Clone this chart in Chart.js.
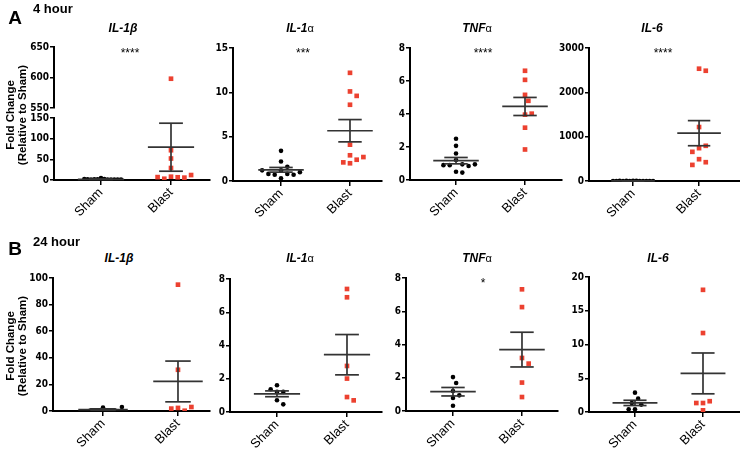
<!DOCTYPE html>
<html><head><meta charset="utf-8">
<script src="https://cdn.jsdelivr.net/npm/chart.js@4.4.0/dist/chart.umd.min.js"></script>
<style>
html,body{margin:0;padding:0}
body{width:740px;height:450px;position:relative;background:#fff;overflow:hidden;font-family:'Liberation Sans',Arial,Helvetica,sans-serif;color:#000}
canvas{position:absolute}
.t{position:absolute;white-space:nowrap;line-height:1}
</style></head><body>
<script>
// ---------- data ----------
const GROUPS = ['Sham', 'Blast'];
const TITLE_MAIN = ['IL-1β', 'IL-1', 'TNF', 'IL-6'];
const TITLE_SUFFIX = ['', 'α', 'α', ''];
const ROW_LABELS = ['A', 'B'];
const ROW_TIMES = ['4 hour', '24 hour'];
const Y_TITLE = ['Fold Change', '(Relative to Sham)'];

// 4 hour
const sham4h_IL1b  = [5, 2.2, 1.4, 1.0, 1.6, 0.8, 1.2, 0.9, 1.5, 1.1, 2.0, 1.3];
const blast4h_IL1b = [598, 72, 52, 29, 8, 6.6, 3, 5.7, 7, 12];
const sham4h_IL1a  = [3.4, 2.2, 1.6, 1.2, 0.8, 0.7, 0.7, 0.8, 1.0, 1.2, 0.3];
const blast4h_IL1a = [12.2, 10.1, 9.6, 8.6, 4.1, 2.9, 2.4, 2.0, 2.1, 2.7];
const sham4h_TNFa  = [2.5, 2.07, 1.61, 1.21, 0.95, 0.9, 0.85, 0.9, 0.95, 0.5, 0.45];
const blast4h_TNFa = [6.62, 6.07, 5.16, 4.8, 3.96, 4.02, 3.17, 1.85];
const sham4h_IL6   = [3, 2, 1, 1, 2, 1, 0.5, 1, 2, 1, 1, 0.5, 1];
const blast4h_IL6  = [2533, 2487, 1217, 741, 794, 658, 492, 424, 363];

// 24 hour
const sham24h_IL1b  = [2.6, 0.3, 0.1, 0.2, 0.3, 3.0];
const blast24h_IL1b = [95, 31, 2.3, 0.2, 1.8, 3.0];
const sham24h_IL1a  = [1.61, 1.21, 1.21, 1.37, 0.71, 0.46];
const blast24h_IL1a = [7.4, 6.9, 2.77, 2.01, 0.9, 0.7];
const sham24h_TNFa  = [2.04, 1.68, 1.2, 0.94, 0.78, 0.32];
const blast24h_TNFa = [7.32, 6.25, 3.19, 2.85, 1.71, 0.84];
const sham24h_IL6   = [2.87, 1.98, 1.33, 1.1, 0.4, 0.4];
const blast24h_IL6  = [18.1, 11.7, 1.33, 1.6, 1.33, 0.25];

// significance marks
const sig4h  = ['****', '***', '****', '****'];
const sig24h = ['', '', '*', ''];

// tick labels
const ticks4h_IL1b_upper = [550, 600, 650];
const ticks4h_IL1b_lower = [0, 50, 100, 150];
const ticks4h_IL1a = [0, 5, 10, 15];
const ticks4h_TNFa = [0, 2, 4, 6, 8];
const ticks4h_IL6  = [0, 1000, 2000, 3000];
const ticks24h_IL1b = [0, 20, 40, 60, 80, 100];
const ticks24h_IL1a = [0, 2, 4, 6, 8];
const ticks24h_TNFa = [0, 2, 4, 6, 8];
const ticks24h_IL6  = [0, 5, 10, 15, 20];

// ---------- layout (pixels) ----------
const TICKFONT = "'Liberation Sans Narrow','Arial Narrow','DejaVu Sans Condensed','Liberation Sans',sans-serif";
const RED = '#ec4130';
const STAT = '#333';

function stats(a){
  const n=a.length, m=a.reduce((s,v)=>s+v,0)/n;
  const sd=Math.sqrt(a.reduce((s,v)=>s+(v-m)*(v-m),0)/(n-1));
  return {m, sem: sd/Math.sqrt(n)};
}
function swarm(vals, pxY, pxX, d, maxHalf){
  const placed=[], offs=[], step=d/2;
  vals.forEach(v=>{
    const y=v*pxY; let off=0;
    for(let i=0;i<400;i++){
      const k=Math.ceil(i/2), cand = i===0?0:(i%2===1?k*step:-k*step);
      if(placed.every(p=>(p.x-cand)*(p.x-cand)+(p.y-y)*(p.y-y) >= d*d*0.98)){off=cand;break;}
    }
    placed.push({x:off,y}); offs.push(off);
  });
  const mx=Math.max(...offs.map(Math.abs));
  const s = mx>maxHalf ? maxHalf/mx : 1;
  return offs.map(o=>o*s/pxX);
}
function addText(html, x, y, css, anchor){
  const d=document.createElement('div'); d.className='t'; d.innerHTML=html;
  d.style.cssText += css; d.style.left=x+'px'; d.style.top=y+'px';
  d.style.transform = anchor || 'translate(-50%,-50%)';
  document.body.appendChild(d); return d;
}

function makeChart(L, yMin, yMax, yTicks, sham, blast, offS, offB, showStats){
  const YW=32, PT=8, PR=6, XH=L.showX?46:0, PB=L.showX?0:8;
  const w=(L.right-L.left)+YW+PR, h=(L.bottom-L.top)+PT+XH+PB;
  const cv=document.createElement('canvas');
  cv.width=w; cv.height=h;
  cv.style.left=(L.left-YW)+'px'; cv.style.top=(L.top-PT)+'px';
  cv.style.width=w+'px'; cv.style.height=h+'px';
  document.body.appendChild(cv);
  const inR = p => p.y>=yMin-1e-9 && p.y<=yMax;
  const shamPts = sham.map((v,i)=>({x:1+offS[i], y:v})).filter(inR);
  const blastPts = blast.map((v,i)=>({x:2+offB[i], y:v})).filter(inR);
  const ds=[];
  const line = pts => ({data:pts, showLine:true, borderColor:STAT, borderWidth:1.7, pointRadius:0, order:0, clip:2});
  if(showStats){
    [[1,stats(sham)],[2,stats(blast)]].forEach(([c,st])=>{
      ds.push(line([{x:c-0.33,y:st.m},{x:c+0.33,y:st.m}]));
      ds.push(line([{x:c,y:st.m-st.sem},{x:c,y:st.m+st.sem}]));
      ds.push(line([{x:c-0.17,y:st.m+st.sem},{x:c+0.17,y:st.m+st.sem}]));
      ds.push(line([{x:c-0.17,y:st.m-st.sem},{x:c+0.17,y:st.m-st.sem}]));
    });
  }
  ds.push({data:shamPts, showLine:false, pointStyle:'circle', pointRadius:2.3, pointBackgroundColor:'#000', pointBorderWidth:0, order:1});
  ds.push({data:blastPts, showLine:false, pointStyle:'rect', pointRadius:3.3, pointBackgroundColor:RED, pointBorderWidth:0, order:1});
  new Chart(cv, {
    type:'scatter',
    data:{datasets:ds},
    options:{
      responsive:false, animation:false, devicePixelRatio:1,
      layout:{padding:{top:PT,right:PR,bottom:PB,left:0}},
      plugins:{legend:{display:false}, tooltip:{enabled:false}},
      scales:{
        x:{type:'linear', min:L.xmin, max:L.xmax, display:L.showX,
          afterBuildTicks:s=>{s.ticks=[{value:1},{value:2}];},
          afterFit:s=>{s.height=XH;},
          ticks:{callback:v=>GROUPS[Math.round(v)-1], minRotation:45, maxRotation:45, autoSkip:false,
                 color:'#000', font:{family:"'Liberation Sans',Arial,sans-serif", size:13}, padding:0},
          grid:{drawOnChartArea:false, drawTicks:true, tickLength:5, color:'#000', lineWidth:1.5},
          border:{display:true, color:'#000', width:2}},
        y:{type:'linear', min:yMin, max:yMax,
          afterBuildTicks:s=>{s.ticks=yTicks.map(v=>({value:v}));},
          afterFit:s=>{s.width=YW;},
          ticks:{callback:v=>String(v), autoSkip:false, color:'#000',
                 font:{family:TICKFONT, size:10, weight:'bold'}, padding:1},
          grid:{drawOnChartArea:false, drawTicks:true, tickLength:4, color:'#000', lineWidth:1.5},
          border:{display:true, color:'#000', width:2}}
      }
    }
  });
}

// panel definitions
const rowA = [
  {L:{left:54,right:210,top:118,bottom:180,xmin:0.329,xmax:2.557,showX:true}, y:[0,150], t:ticks4h_IL1b_lower, s:sham4h_IL1b, b:blast4h_IL1b,
   upper:{L:{left:54,right:210,top:47,bottom:108,xmin:0.329,xmax:2.557,showX:false}, y:[550,650], t:ticks4h_IL1b_upper}},
  {L:{left:233,right:382,top:48,bottom:181,xmin:0.304,xmax:2.464,showX:true}, y:[0,15], t:ticks4h_IL1a, s:sham4h_IL1a, b:blast4h_IL1a},
  {L:{left:410,right:562,top:48,bottom:180,xmin:0.333,xmax:2.536,showX:true}, y:[0,8], t:ticks4h_TNFa, s:sham4h_TNFa, b:blast4h_TNFa},
  {L:{left:589,right:740,top:48,bottom:181,xmin:0.333,xmax:2.62,showX:true}, y:[0,3000], t:ticks4h_IL6, s:sham4h_IL6, b:blast4h_IL6}
];
const rowB = [
  {L:{left:53,right:210,top:278,bottom:411,xmin:0.333,xmax:2.427,showX:true}, y:[0,100], t:ticks24h_IL1b, s:sham24h_IL1b, b:blast24h_IL1b},
  {L:{left:230,right:382,top:279,bottom:412,xmin:0.329,xmax:2.5,showX:true}, y:[0,8], t:ticks24h_IL1a, s:sham24h_IL1a, b:blast24h_IL1a},
  {L:{left:406,right:558,top:278,bottom:411,xmin:0.319,xmax:2.522,showX:true}, y:[0,8], t:ticks24h_TNFa, s:sham24h_TNFa, b:blast24h_TNFa},
  {L:{left:589,right:740,top:277,bottom:412,xmin:0.324,xmax:2.544,showX:true}, y:[0,20], t:ticks24h_IL6, s:sham24h_IL6, b:blast24h_IL6}
];

function drawPanel(P){
  const L=P.L;
  const pxY=(L.bottom-L.top)/(P.y[1]-P.y[0]);
  const pxX=(L.right-L.left)/(L.xmax-L.xmin);
  const offS=swarm(P.s, pxY, pxX, 6.3, 20);
  const offB=swarm(P.b, pxY, pxX, 6.7, 21);
  makeChart(L, P.y[0], P.y[1], P.t, P.s, P.b, offS, offB, true);
  if(P.upper){
    makeChart(P.upper.L, P.upper.y[0], P.upper.y[1], P.upper.t, P.s, P.b, offS, offB, false);
  }
}
rowA.forEach(drawPanel);
rowB.forEach(drawPanel);

// ---------- text ----------
const titleX = [[123,300,477,652],[119,300,477,658]];
const titleY = [28, 258];
const sigX = [130, 303, 483, 663];
const sigY = [53, 283];
[0,1].forEach(r=>{
  addText(ROW_LABELS[r], 15, r===0?17:248, 'font-size:19px;font-weight:bold;');
  addText(ROW_TIMES[r], 33, r===0?8:241, 'font-size:13px;font-weight:bold;', 'translate(0,-50%)');
  for(let i=0;i<4;i++){
    const suf = TITLE_SUFFIX[i] ? '<span style="font-weight:normal;font-style:normal;font-size:11px">'+TITLE_SUFFIX[i]+'</span>' : '';
    addText('<b><i>'+TITLE_MAIN[i]+'</i></b>'+suf, titleX[r][i], titleY[r], 'font-size:12px;');
    const sig = (r===0?sig4h:sig24h)[i];
    if(sig) addText(sig, sigX[i], sigY[r], 'font-size:12px;');
  }
  addText(Y_TITLE[0]+'<br>'+Y_TITLE[1], 16, r===0?115:346, 'font-size:11.5px;font-weight:bold;text-align:center;line-height:12px;', 'translate(-50%,-50%) rotate(-90deg)');
});
</script>
</body></html>
